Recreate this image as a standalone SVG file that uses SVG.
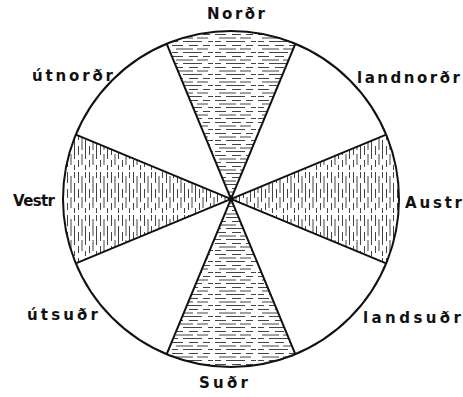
<svg xmlns="http://www.w3.org/2000/svg" width="463" height="397" viewBox="0 0 463 397">
<style>
.lbl{font-family:"DejaVu Sans","Liberation Sans",sans-serif;font-size:15px;font-weight:bold;fill:#111;}
.edge{stroke:#111;stroke-width:2;fill:none;}
.hatch{stroke:#444;stroke-width:1;fill:none;}
</style>
<defs>
<pattern id="hh" width="43" height="11" patternUnits="userSpaceOnUse">
<path class="hatch" d="M0 1.5h11M17 1.5h9M31 1.5h7M4 5h17M25 5h11M0 8.5h6M11 8.5h19M36 8.5h5"/>
</pattern>
<pattern id="vv" width="11" height="43" patternUnits="userSpaceOnUse">
<path class="hatch" d="M1.5 0v11M1.5 17v9M1.5 31v7M5 4v17M5 25v11M8.5 0v6M8.5 11v19M8.5 36v5"/>
</pattern>
</defs>
<rect width="463" height="397" fill="#fff"/>
<g id="sectors">
<path id="north" d="M231 199L166.7 43.8A168 168 0 0 1 295.3 43.8Z" fill="url(#hh)"/>
<path id="south" d="M231 199L295.3 354.2A168 168 0 0 1 166.7 354.2Z" fill="url(#hh)"/>
<path id="east" d="M231 199L386.2 134.7A168 168 0 0 1 386.2 263.3Z" fill="url(#vv)"/>
<path id="west" d="M231 199L75.8 263.3A168 168 0 0 1 75.8 134.7Z" fill="url(#vv)"/>
</g>
<g id="connectors">
<circle class="edge" cx="231" cy="199" r="168"/>
<line class="edge" x1="166.7" y1="43.8" x2="295.3" y2="354.2"/>
<line class="edge" x1="295.3" y1="43.8" x2="166.7" y2="354.2"/>
<line class="edge" x1="386.2" y1="134.7" x2="75.8" y2="263.3"/>
<line class="edge" x1="386.2" y1="263.3" x2="75.8" y2="134.7"/>
<circle cx="231" cy="199" r="2.5" fill="#111"/>
</g>
<g id="labels">
<text class="lbl" x="207" y="19" textLength="58" lengthAdjust="spacing">Norðr</text>
<text class="lbl" x="32" y="81" textLength="81" lengthAdjust="spacing">útnorðr</text>
<text class="lbl" x="357" y="83" textLength="103" lengthAdjust="spacing">landnorðr</text>
<text class="lbl" x="13" y="206" textLength="42" lengthAdjust="spacing">Vestr</text>
<text class="lbl" x="405" y="208" textLength="57" lengthAdjust="spacing">Austr</text>
<text class="lbl" x="27" y="320" textLength="71" lengthAdjust="spacing">útsuðr</text>
<text class="lbl" x="363" y="323" textLength="98" lengthAdjust="spacing">landsuðr</text>
<text class="lbl" x="199" y="388" textLength="49" lengthAdjust="spacing">Suðr</text>
</g>
</svg>
